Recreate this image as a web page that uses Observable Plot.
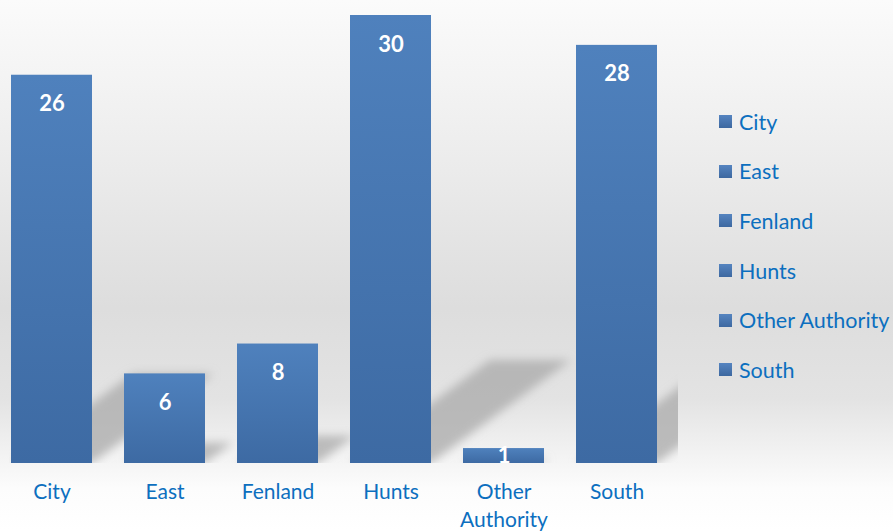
<!DOCTYPE html>
<html>
<head>
<meta charset="utf-8">
<script src="https://cdn.jsdelivr.net/npm/d3@7"></script>
<script src="https://cdn.jsdelivr.net/npm/@observablehq/plot@0.6"></script>
<style>
  html, body { margin: 0; padding: 0; }
  body {
    width: 893px; height: 531px; overflow: hidden; position: relative;
    background: linear-gradient(to bottom, #fbfbfb 0%, #ececec 30%, #dddddd 58%, #e3e3e3 75%, #fcfcfc 92%, #ffffff 100%);
    font-family: Lato, "Open Sans", sans-serif;
  }
  #chart { position: absolute; left: 0; top: 0; }
  #legend { position: absolute; left: 719px; top: 97px; }
  .sw { display: flex; align-items: center; height: 49.6px; margin: 0; }
  .sw .box { width: 13px; height: 13px; margin-right: 7px;
    background: linear-gradient(to bottom, #5584c0, #3d68a0); }
  .sw .lab { color: #0c6fbf; font-size: 21.5px; white-space: nowrap; line-height: 26px; }
</style>
</head>
<body>
<div id="chart"></div>
<div id="legend"></div>
<script>
const categories = ["City", "East", "Fenland", "Hunts", "Other Authority", "South"];
const values = [26, 6, 8, 30, 1, 28];
const tickLabels = ["City", "East", "Fenland", "Hunts", "Other\nAuthority", "South"];

const data = categories.map((c, i) => ({category: c, value: values[i]}));
const tickMap = new Map(categories.map((c, i) => [c, tickLabels[i]]));

// perspective "shadow" of each bar: squashed and slanted to the right, blurred
function shadowRender(index, scales, values, dims, context, next) {
  const g = next(index, scales, values, dims, context);
  const base = scales.y(0);
  const sy = 0.23, k = 0.3125;
  d3.select(g).selectAll("rect").attr("transform",
    `matrix(1,0,${-k},${sy},${k * base},${base * (1 - sy)})`);
  d3.select(g).attr("filter", "url(#shadowBlur)");
  return g;
}

const W = 893, H = 531;
const chart = Plot.plot({
  width: W,
  height: H,
  marginLeft: 9,
  marginRight: 215,
  marginTop: 15,
  marginBottom: 68,
  style: {background: "transparent", fontFamily: "Lato, 'Open Sans', sans-serif", overflow: "visible"},
  x: {domain: categories, range: [9, 660], paddingInner: 0.28, paddingOuter: 0, axis: null},
  y: {domain: [0, 30], axis: null},
  marks: [
    Plot.barY(data, {x: "category", y: "value", fill: "#a9a9a9", fillOpacity: 0.75,
      clip: true, render: shadowRender}),
    Plot.barY(data, {x: "category", y: "value", fill: "url(#barGrad)"}),
    Plot.text(data.filter(d => d.value >= 3), {
      x: "category", y: "value", text: d => String(d.value), dy: 29,
      fill: "white", fontWeight: "bold", fontSize: 22
    }),
    Plot.text(data.filter(d => d.value < 3), {
      x: "category", y: d => d.value / 2, text: d => String(d.value),
      fill: "white", fontWeight: "bold", fontSize: 22, clip: true
    }),
    Plot.axisX({
      label: null,
      tickSize: 0, tickPadding: 16, fontSize: 21, lineAnchor: "top",
      tickFormat: d => tickMap.get(d), lineHeight: 1.33,
      color: "#0c6fbf", fill: "#0c6fbf"
    })
  ]
});

const svg = d3.select(chart);
const defs = svg.insert("defs", ":first-child");
const g = defs.append("linearGradient").attr("id", "barGrad")
  .attr("x1", 0).attr("y1", 0).attr("x2", 0).attr("y2", 1);
g.append("stop").attr("offset", "0%").attr("stop-color", "#4f81bd");
g.append("stop").attr("offset", "100%").attr("stop-color", "#3d6aa3");
const f = defs.append("filter").attr("id", "shadowBlur")
  .attr("x", "-20%").attr("y", "-20%").attr("width", "140%").attr("height", "140%");
f.append("feGaussianBlur").attr("stdDeviation", 5);

document.getElementById("chart").appendChild(chart);

const legend = d3.select("#legend");
categories.forEach(c => {
  const row = legend.append("div").attr("class", "sw");
  row.append("div").attr("class", "box");
  row.append("div").attr("class", "lab").text(c);
});
</script>
</body>
</html>
